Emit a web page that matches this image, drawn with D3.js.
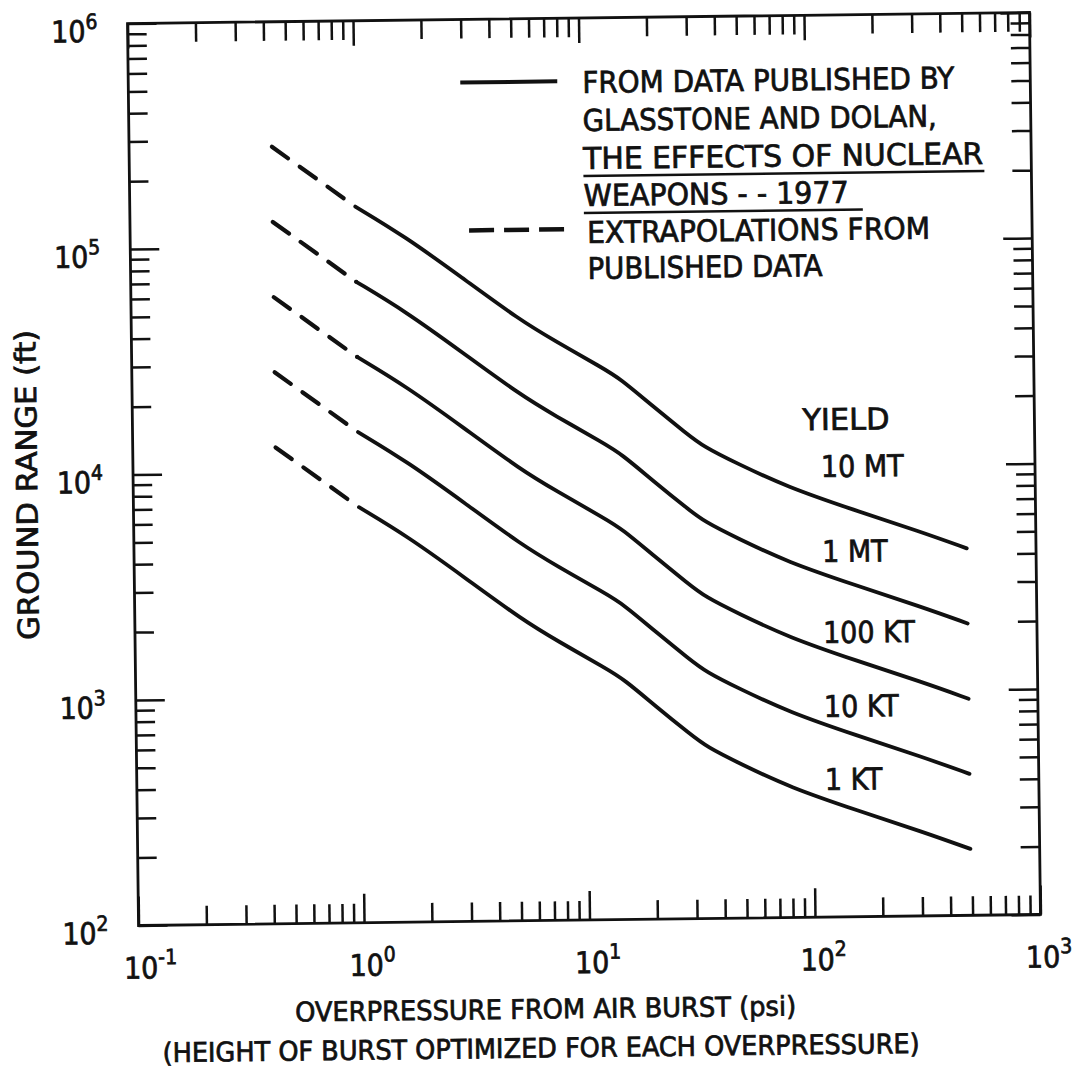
<!DOCTYPE html>
<html>
<head>
<meta charset="utf-8">
<script src="https://cdn.jsdelivr.net/npm/d3@7"></script>
<style>
  html, body { margin: 0; padding: 0; background: #fff; }
  svg { display: block; }
  .lbl { font-family: "Liberation Sans Narrow", "DejaVu Sans Condensed", "Liberation Sans", sans-serif; fill: #111; stroke: #111; stroke-width: 0.7px; }
</style>
</head>
<body>
<div id="chart"></div>
<script>
// DATA
// ================================================================================== //

// overpressure, psi (first point = start of the dashed extrapolation)
const pressure = [0.43, 1.0, 1.65, 2.93, 5.3, 7.43, 12.3, 14.6, 20.5, 28.6, 33.9, 47.6, 79.1, 156, 307, 493];

// ground range, ft
const range10MT  = [279000, 150000, 110000, 72000, 46100, 37500, 27900, 25100, 18700, 14200, 12400, 10400, 8130, 6370, 5060, 4240];
const range1MT   = [129500, 69600, 51100, 33400, 21400, 17400, 12950, 11650, 8680, 6590, 5760, 4830, 3770, 2960, 2350, 1970];
const range100KT = [60100, 32300, 23700, 15500, 9930, 8080, 6010, 5410, 4030, 3060, 2670, 2240, 1750, 1370, 1090, 913];
const range10KT  = [27900, 15000, 11000, 7200, 4610, 3750, 2790, 2510, 1870, 1420, 1240, 1040, 813, 637, 506, 424];
const range1KT   = [12950, 6960, 5110, 3340, 2140, 1740, 1295, 1165, 868, 659, 576, 483, 377, 296, 235, 197];

const yieldNames = ["10 MT", "1 MT", "100 KT", "10 KT", "1 KT"];

const xTickValues = [0.1, 1, 10, 100, 1000];
const xTickExp = ["-1", "0", "1", "2", "3"];
const yTickValues = [100, 1000, 10000, 100000, 1000000];
const yTickExp = ["2", "3", "4", "5", "6"];

const legendSolid = ["FROM DATA PUBLISHED BY", "GLASSTONE AND DOLAN,", "THE EFFECTS OF NUCLEAR", "WEAPONS - - 1977"];
const legendDashed = ["EXTRAPOLATIONS FROM", "PUBLISHED DATA"];

// ================================================================================== //
// DATA END


const W = 1073
const H = 1074
const plot = ({ left: 133, top: 18, right: 1035, bottom: 920 })
const ink = "#111"

const x = d3.scaleLog()
    .domain([0.1, 1000])
    .range([plot.left, plot.right])

const y = d3.scaleLog()
    .domain([100, 1e6])
    .range([plot.bottom, plot.top])

const svg = d3.select("#chart")
    .append("svg")
    .attr("width", W)
    .attr("height", H)
    .attr("viewBox", [0, 0, W, H]);

svg.append("rect").attr("width", W).attr("height", H).attr("fill", "#fff");

// the scan is tilted a little, so everything sits in one rotated group
const g = svg.append("g").attr("transform", "rotate(-0.7,584,469)");

// frame
g.append("rect")
    .attr("x", plot.left)
    .attr("y", plot.top)
    .attr("width", plot.right - plot.left)
    .attr("height", plot.bottom - plot.top)
    .attr("fill", "none")
    .attr("stroke", ink)
    .attr("stroke-width", 2.8);

// ticks: all point inwards, majors longer
const isMajor = v => Math.abs(Math.log10(v) - Math.round(Math.log10(v))) < 1e-9;

const tickAxis = (axisFn, scale, translate, majorLen, minorLen) => {
    const all = scale.ticks();
    const majors = all.filter(isMajor);
    const minors = all.filter(v => !isMajor(v));
    [[majors, majorLen], [minors, minorLen]].forEach(([vals, len]) => {
        g.append("g")
            .attr("transform", translate)
            .call(axisFn(scale).tickValues(vals).tickSize(-len).tickFormat(""))
            .call(a => a.select(".domain").remove())
            .call(a => a.selectAll(".tick line").attr("stroke", ink).attr("stroke-width", 2.5));
    });
}

tickAxis(d3.axisLeft, y, `translate(${plot.left},0)`, 29, 19);
tickAxis(d3.axisRight, y, `translate(${plot.right},0)`, 29, 19);
tickAxis(d3.axisTop, x, `translate(0,${plot.top})`, 25, 19);
tickAxis(d3.axisBottom, x, `translate(0,${plot.bottom})`, 29, 19);

// tick labels, "10" with a raised exponent
g.selectAll(".xlab")
    .data(xTickValues)
    .join("text")
    .attr("class", "lbl")
    .attr("x", d => x(d) - 15)
    .attr("y", plot.bottom + 53)
    .attr("font-size", 30)
    .each(function (d, i) {
        const t = d3.select(this);
        t.append("tspan").text("10");
        t.append("tspan").attr("dy", -14).attr("font-size", 21).text(xTickExp[i]);
    });

g.selectAll(".ylab")
    .data(yTickValues)
    .join("text")
    .attr("class", "lbl")
    .attr("text-anchor", "end")
    .attr("x", plot.left - 30)
    .attr("y", d => y(d) + 18)
    .attr("font-size", 30)
    .each(function (d, i) {
        const t = d3.select(this);
        t.append("tspan").text("10");
        t.append("tspan").attr("dy", -13).attr("font-size", 21).text(yTickExp[i]);
    });

// axis titles
g.append("text")
    .attr("class", "lbl")
    .attr("text-anchor", "middle")
    .attr("x", 539)
    .attr("y", 1018)
    .attr("font-size", 27)
    .attr("textLength", 501)
    .attr("lengthAdjust", "spacingAndGlyphs")
    .text("OVERPRESSURE FROM AIR BURST (psi)");

g.append("text")
    .attr("class", "lbl")
    .attr("text-anchor", "middle")
    .attr("x", 534)
    .attr("y", 1057)
    .attr("font-size", 27)
    .attr("textLength", 757)
    .attr("lengthAdjust", "spacingAndGlyphs")
    .text("(HEIGHT OF BURST OPTIMIZED FOR EACH OVERPRESSURE)");

g.append("text")
    .attr("class", "lbl")
    .attr("text-anchor", "middle")
    .attr("transform", "translate(37,478) rotate(-90)")
    .attr("font-size", 29)
    .attr("textLength", 310)
    .attr("lengthAdjust", "spacingAndGlyphs")
    .text("GROUND RANGE (ft)");

// curves: dashed extrapolation to 1 psi, then the published data
const series = [range10MT, range1MT, range100KT, range10KT, range1KT];
const curveLine = d3.line().curve(d3.curveBasis);
const lineW = 3.8;
const gap = 10.5;

series.forEach(vals => {
    const pts = pressure.map((p, i) => [x(p), y(vals[i])]);

    const dashed = g.append("path")
        .attr("d", d3.line()(pts.slice(0, 2)))
        .attr("fill", "none")
        .attr("stroke", ink)
        .attr("stroke-width", lineW + 0.4)
        .attr("stroke-linecap", "round");
    const L = dashed.node().getTotalLength();
    const dash = (L - 3 * gap) / 3;
    dashed.attr("stroke-dasharray", `${dash - lineW},${gap + lineW}`);

    g.append("path")
        .attr("d", curveLine(pts.slice(1)))
        .attr("fill", "none")
        .attr("stroke", ink)
        .attr("stroke-width", lineW)
        .attr("stroke-linecap", "round");
});

// yield labels
const yieldLabelY = [480, 565, 646, 720, 793];

g.append("text")
    .attr("class", "lbl")
    .attr("x", 803)
    .attr("y", 433)
    .attr("font-size", 30)
    .attr("textLength", 87)
    .attr("lengthAdjust", "spacingAndGlyphs")
    .text("YIELD");

g.selectAll(".ylbl")
    .data(yieldNames)
    .join("text")
    .attr("class", "lbl")
    .attr("x", 821)
    .attr("y", (d, i) => yieldLabelY[i])
    .attr("font-size", 30)
    .text(d => d);

// legend
const legendX = 587
const legendRows = [93, 131, 169, 206]
const legendWidths = [372, 354, 400, 265]

g.append("line")
    .attr("x1", 465).attr("x2", 562)
    .attr("y1", 81).attr("y2", 81)
    .attr("stroke", ink)
    .attr("stroke-width", 4);

g.selectAll(".leg1")
    .data(legendSolid)
    .join("text")
    .attr("class", "lbl")
    .attr("x", legendX)
    .attr("y", (d, i) => legendRows[i])
    .attr("font-size", 30)
    .attr("textLength", (d, i) => legendWidths[i])
    .attr("lengthAdjust", "spacingAndGlyphs")
    .text(d => d);

// underlined title
g.append("line")
    .attr("x1", legendX).attr("x2", 988)
    .attr("y1", 176).attr("y2", 176)
    .attr("stroke", ink).attr("stroke-width", 2.5);
g.append("line")
    .attr("x1", legendX).attr("x2", 866)
    .attr("y1", 213).attr("y2", 213)
    .attr("stroke", ink).attr("stroke-width", 2.5);

g.append("line")
    .attr("x1", 472).attr("x2", 567)
    .attr("y1", 229).attr("y2", 229)
    .attr("stroke", ink)
    .attr("stroke-width", 4.5)
    .attr("stroke-dasharray", "25,10");

const legendRows2 = [243, 279]
const legendWidths2 = [343, 235]

g.selectAll(".leg2")
    .data(legendDashed)
    .join("text")
    .attr("class", "lbl")
    .attr("x", 590)
    .attr("y", (d, i) => legendRows2[i])
    .attr("font-size", 30)
    .attr("textLength", (d, i) => legendWidths2[i])
    .attr("lengthAdjust", "spacingAndGlyphs")
    .text(d => d);
</script>
</body>
</html>
